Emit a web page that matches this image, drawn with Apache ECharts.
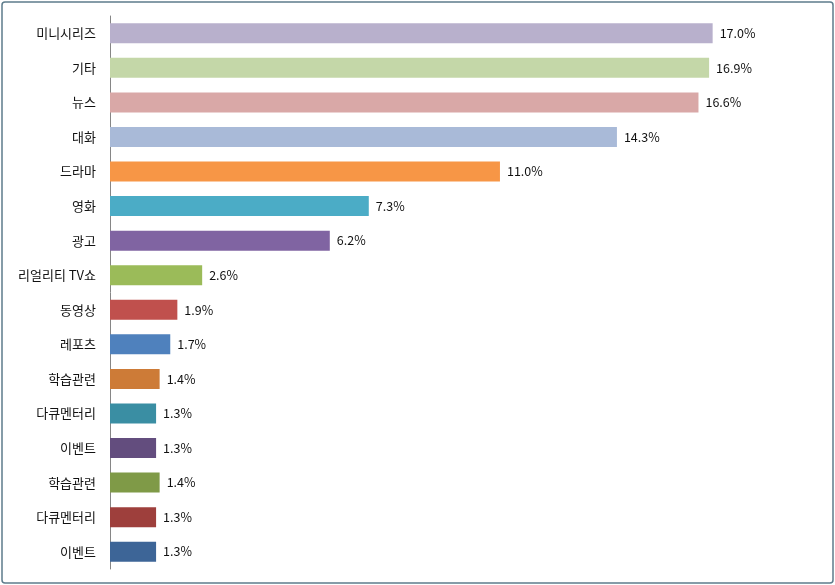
<!DOCTYPE html>
<html>
<head>
<meta charset="utf-8">
<script src="https://cdn.jsdelivr.net/npm/echarts@6/dist/echarts.min.js"></script>
<style>
html,body{margin:0;padding:0;background:#fff;}
#c{width:835px;height:585px;}
</style>
</head>
<body>
<div id="c"></div>
<script>
var categories = ['미니시리즈','기타','뉴스','대화','드라마','영화','광고','리얼리티 TV쇼','동영상','레포츠','학습관련','다큐멘터리','이벤트','학습관련','다큐멘터리','이벤트'];
var values = [17.0,16.9,16.6,14.3,11.0,7.3,6.2,2.6,1.9,1.7,1.4,1.3,1.3,1.4,1.3,1.3];
var colors = ['#B8B0CC','#C4D7A8','#D9A8A7','#A9BAD8','#F79646','#4BACC6','#8064A2','#9BBB59','#C0504D','#4F81BD','#CD7B37','#3A8EA3','#634D7E','#7F9A47','#9E3F3C','#3D6597'];

var chart = echarts.init(document.getElementById('c'), null, {renderer:'canvas'});
var font = '"Noto Sans CJK KR","Noto Sans",sans-serif';
chart.setOption({
  animation:false,
  backgroundColor:'#fff',
  graphic:[{type:'rect',shape:{x:2,y:2,width:831,height:581,r:3},style:{fill:'none',stroke:'#5E7C8C',lineWidth:1.5},silent:true}],
  grid:{left:110,right:16,top:16,bottom:16,containLabel:false},
  xAxis:{type:'value',min:0,max:20,show:false},
  yAxis:{type:'category',inverse:true,data:categories,
    axisLine:{show:true,lineStyle:{color:'#868686',width:1}},
    axisTick:{show:false},
    axisLabel:{color:'#111',fontSize:13,fontFamily:font,margin:14}},
  series:[{type:'bar',barWidth:20,
    data:values.map(function(v,i){return {value:v,itemStyle:{color:colors[i]}};}),
    label:{show:true,position:'right',distance:7,color:'#111',fontSize:12.5,fontFamily:font,
      formatter:function(p){return p.value.toFixed(1)+'%';}}}]
});
</script>
</body>
</html>
